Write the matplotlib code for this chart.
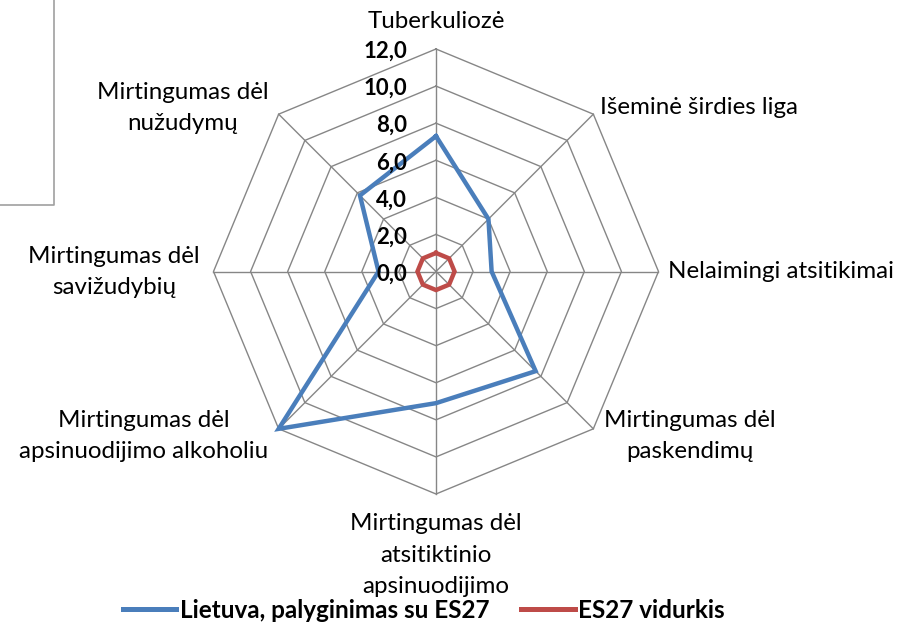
import numpy as np
import matplotlib
matplotlib.use("Agg")
import matplotlib.pyplot as plt
from matplotlib.lines import Line2D

categories = [
    "Tuberkuliozė",
    "Išeminė širdies liga",
    "Nelaimingi atsitikimai",
    "Mirtingumas dėl\npaskendimų",
    "Mirtingumas dėl\natsitiktinio\napsinuodijimo",
    "Mirtingumas dėl\napsinuodijimo alkoholiu",
    "Mirtingumas dėl\nsavižudybių",
    "Mirtingumas dėl\nnužudymų",
]
lietuva = [7.3, 4.0, 3.0, 7.6, 7.1, 12.0, 3.1, 5.8]
es27 = [1.0, 1.0, 1.0, 1.0, 1.0, 1.0, 1.0, 1.0]
ticks = [0, 2, 4, 6, 8, 10, 12]
tick_labels = ["0,0", "2,0", "4,0", "6,0", "8,0", "10,0", "12,0"]
series_names = ["Lietuva, palyginimas su ES27", "ES27 vidurkis"]

W, H = 904, 629
DPI = 100
FONT = "Lato"
fig = plt.figure(figsize=(W / DPI, H / DPI), dpi=DPI)
fig.patch.set_facecolor("white")

cx, cy = 436, 271.5        # pixel centre (from top)
R = 222.5                  # pixel radius for max tick
unit = R / ticks[-1]
ax = fig.add_axes([0, 0, 1, 1])
ax.set_xlim(-cx / unit, (W - cx) / unit)
ax.set_ylim(-(H - cy) / unit, cy / unit)
ax.axis("off")

n = len(categories)
ang = np.pi / 2 - np.arange(n) * 2 * np.pi / n

def xy(vals):
    v = np.asarray(vals, float)
    x = v * np.cos(ang)
    y = v * np.sin(ang)
    return np.append(x, x[0]), np.append(y, y[0])

grid_c = "#868686"
for t in ticks[1:]:
    gx, gy = xy([t] * n)
    ax.plot(gx, gy, color=grid_c, lw=1.0, zorder=1)
for a in ang:
    ax.plot([0, ticks[-1] * np.cos(a)], [0, ticks[-1] * np.sin(a)], color=grid_c, lw=1.0, zorder=1)

blue = "#4a7ebb"
red = "#be4b48"
bx, by = xy(lietuva)
ax.plot(bx, by, color=blue, lw=3.2, zorder=3, solid_joinstyle="miter")
rx, ry = xy(es27)
ax.plot(rx, ry, color=red, lw=3.2, zorder=3, solid_joinstyle="miter")

# radial tick labels
for t, lab in zip(ticks, tick_labels):
    ax.text(-29 / unit, t - 2.5 / unit, lab, ha="right", va="center", fontsize=16,
            fontweight="bold", family=FONT, zorder=4)

def px(x, y):
    return (x - cx) / unit, (cy - y) / unit

lab_pos = [
    (436, 21, "center"),
    (600, 107, "left"),
    (668, 271, "left"),
    (690, 436, "center"),
    (436, 555, "center"),
    (144, 436, "center"),
    (114, 272, "center"),
    (183, 108, "center"),
]
for cat, (x, y, ha) in zip(categories, lab_pos):
    X, Y = px(x, y)
    ax.text(X, Y, cat, ha=ha, va="center", multialignment="center",
            fontsize=17.4, family=FONT, linespacing=1.6, zorder=4)

# partial frame at top-left
fx, fy = px(54, 205)
fx0, fy0 = px(0, 0)
ax.plot([fx0, fx, fx], [fy, fy, fy0], color="#a0a0a0", lw=1.2, zorder=1)

handles = [Line2D([], [], color=blue, lw=3.6), Line2D([], [], color=red, lw=3.6)]
leg = fig.legend(handles, series_names, loc="center", bbox_to_anchor=(424 / W, 1 - 610 / H),
                 ncol=2, frameon=False, handlelength=2.2, handletextpad=0.15,
                 columnspacing=1.3, prop={"family": FONT, "weight": "bold", "size": 17.5})

fig.savefig("out.png", dpi=DPI, facecolor="white")
